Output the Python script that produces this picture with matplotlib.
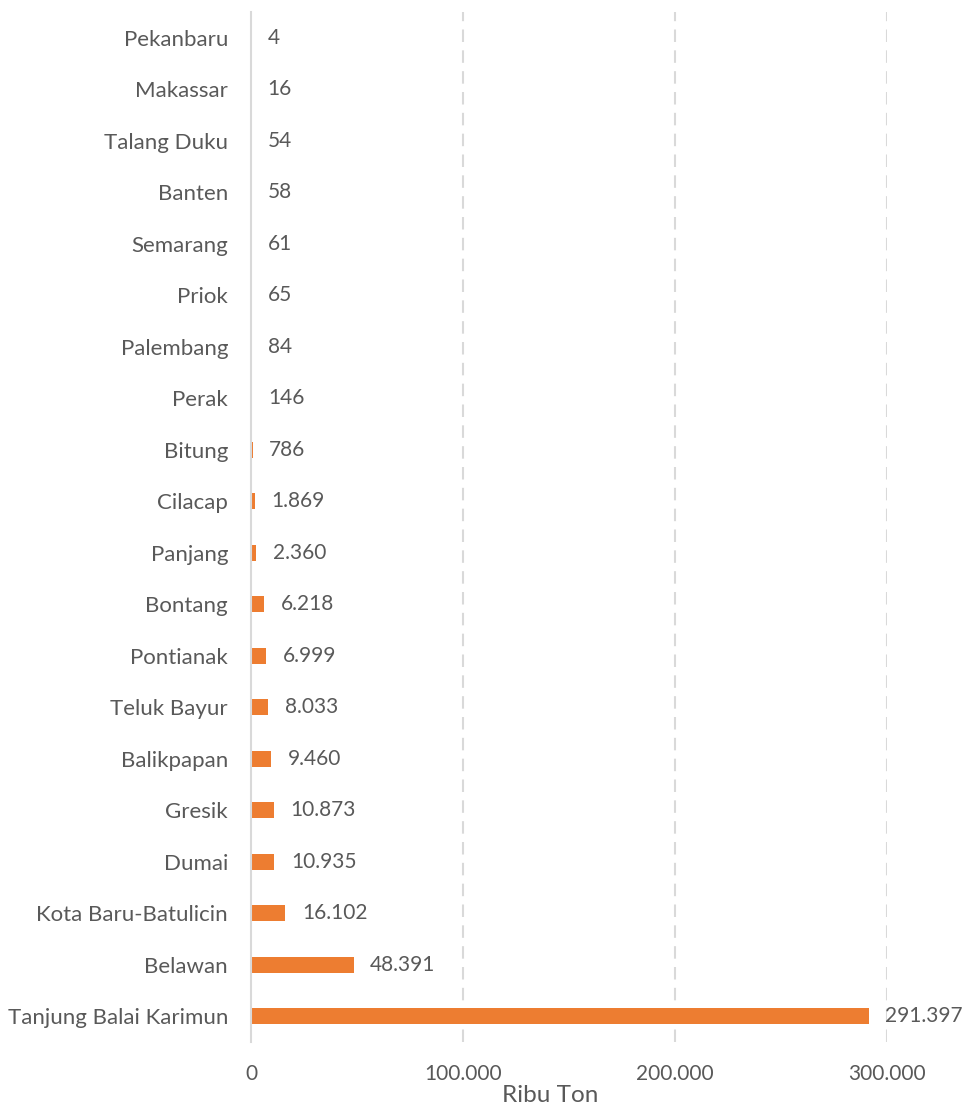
import matplotlib.pyplot as plt
import numpy as np

plt.rcParams['font.family'] = ['Lato', 'DejaVu Sans']

# data, top to bottom as in the chart
ports = ['Pekanbaru', 'Makassar', 'Talang Duku', 'Banten', 'Semarang', 'Priok',
         'Palembang', 'Perak', 'Bitung', 'Cilacap', 'Panjang', 'Bontang',
         'Pontianak', 'Teluk Bayur', 'Balikpapan', 'Gresik', 'Dumai',
         'Kota Baru-Batulicin', 'Belawan', 'Tanjung Balai Karimun']
values = [4, 16, 54, 58, 61, 65, 84, 146, 786, 1869, 2360, 6218,
          6999, 8033, 9460, 10873, 10935, 16102, 48391, 291397]
xticks = [0, 100000, 200000, 300000]

def fmt(v):
    return '{:,}'.format(v).replace(',', '.')

txt = '#595959'
fig = plt.figure(figsize=(9.65, 11.08), dpi=100)
ax = fig.add_axes([251/965, 1 - 1042/1108, (887 - 251)/965, (1042 - 12)/1108])

y = np.arange(len(ports))
ax.barh(y, values, height=0.31, color='#ED7D31', zorder=3)
for yi, v in zip(y, values):
    ax.annotate(fmt(v), (v, yi), xytext=(12, 0), textcoords='offset points',
                va='center', ha='left', fontsize=15, color=txt)

ax.set_ylim(len(ports) - 0.5, -0.5)
ax.set_xlim(0, 300000)
ax.set_yticks(y)
ax.set_yticklabels(ports, fontsize=16, color=txt)
ax.set_xticks(xticks)
ax.set_xticklabels([fmt(t) for t in xticks], fontsize=15, color=txt)
ax.tick_params(length=0)
ax.tick_params(axis='y', pad=16.5)
ax.tick_params(axis='x', pad=16)

for s in ['top', 'right', 'bottom']:
    ax.spines[s].set_visible(False)
ax.spines['left'].set_color('#D9D9D9')
ax.spines['left'].set_linewidth(1.5)
ax.spines['left'].set_zorder(4)

for t in xticks[1:]:
    ax.axvline(t, color='#D9D9D9', lw=1.5, ls=(0, (6, 4)), zorder=1)

ax.set_xlabel('Ribu Ton', fontsize=17.5, color=txt, va='center')
ax.xaxis.set_label_coords((550 - 251) / 636, (1042 - 1095) / 1030)

fig.savefig('out.png', dpi=100)
